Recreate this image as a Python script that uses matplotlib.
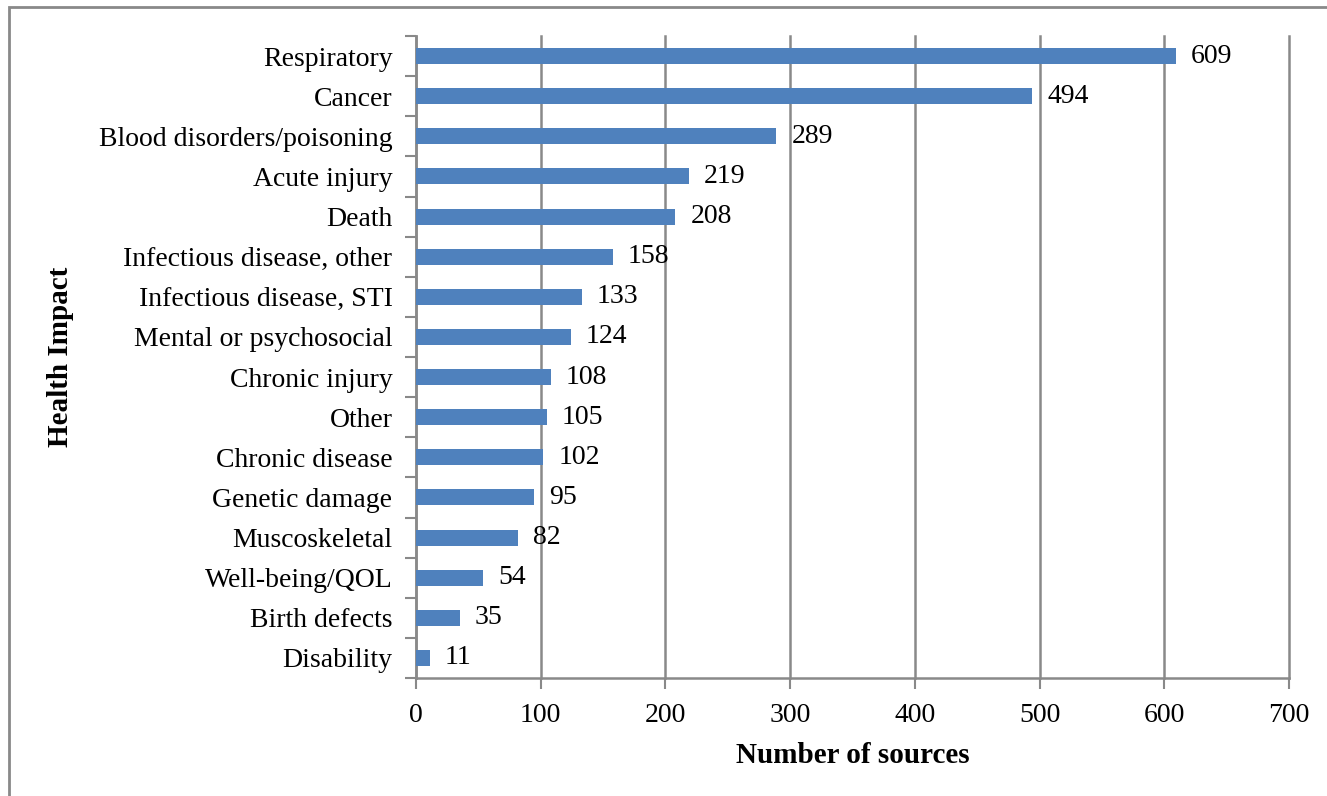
import matplotlib
matplotlib.use("Agg")
import matplotlib.pyplot as plt
from matplotlib.patches import Rectangle
import numpy as np

categories = ["Respiratory", "Cancer", "Blood disorders/poisoning", "Acute injury", "Death",
              "Infectious disease, other", "Infectious disease, STI", "Mental or psychosocial",
              "Chronic injury", "Other", "Chronic disease", "Genetic damage", "Muscoskeletal",
              "Well-being/QOL", "Birth defects", "Disability"]
values = [609, 494, 289, 219, 208, 158, 133, 124, 108, 105, 102, 95, 82, 54, 35, 11]
xticks = [0, 100, 200, 300, 400, 500, 600, 700]

plt.rcParams['font.family'] = ['Liberation Serif', 'DejaVu Serif']
W, H = 1327, 796
fig = plt.figure(figsize=(W/100, H/100), dpi=100)
ax = fig.add_axes([416/W, 1-678/H, (1289-416)/W, (678-36)/H])

n = len(categories)
y = np.arange(n)
ax.barh(y, values, height=0.4, color="#4F81BD", zorder=3)
for yi, v in zip(y, values):
    ax.annotate(str(v), (v, yi), xytext=(15, 0), textcoords="offset pixels",
                va="center", ha="left", fontsize=20, color="black")

ax.set_ylim(n-0.5, -0.5)
ax.set_xlim(0, 700)
ax.set_xticks(xticks)
ax.set_xticklabels([str(t) for t in xticks], fontsize=20)
ax.set_yticks(y)
ax.set_yticklabels(categories, fontsize=20)
ax.set_yticks(np.arange(-0.5, n, 1), minor=True)
ax.tick_params(axis='y', which='major', length=0, pad=17)
ax.tick_params(axis='y', which='minor', length=8, width=1.5, color="#898989", direction='out')
ax.tick_params(axis='x', which='major', length=8, width=1.5, color="#898989", direction='out', pad=10)
ax.grid(axis='x', color="#898989", linewidth=1.8, zorder=0)
for gl in ax.get_xgridlines():
    gl.set_clip_on(False)
for s in ['top', 'right']:
    ax.spines[s].set_visible(False)
for s in ['left', 'bottom']:
    ax.spines[s].set_color("#898989")
    ax.spines[s].set_linewidth(1.8)

ax.set_xlabel("Number of sources", fontsize=21, fontweight='bold', labelpad=10)
ax.set_ylabel("Health Impact", fontsize=21, fontweight='bold')
ax.yaxis.set_label_coords((74-416)/(1289-416), 0.5)

fig.patches.append(Rectangle((9/W, -0.05), 1.1, 1-7/H+0.05, transform=fig.transFigure,
                             fill=False, edgecolor="#898989", linewidth=2))

fig.savefig("out.png", dpi=100)
